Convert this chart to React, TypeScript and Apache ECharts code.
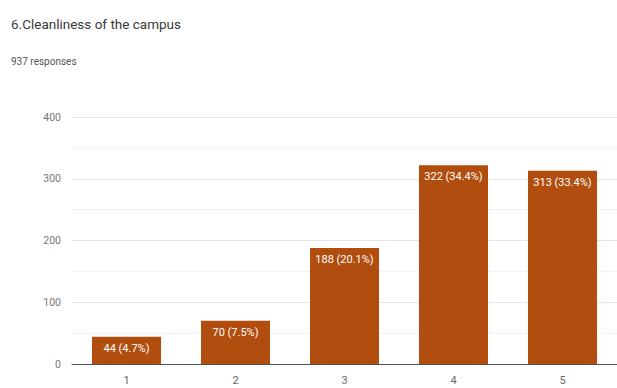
import React, { useEffect, useRef } from "react";
import * as echarts from "echarts";

const title = "6.Cleanliness of the campus";
const subtitle = "937 responses";
const categories = ["1", "2", "3", "4", "5"];
const counts = [44, 70, 188, 322, 313];
const percents = ["4.7", "7.5", "20.1", "34.4", "33.4"];
const yTicks = [0, 100, 200, 300, 400];

export default function App() {
  const ref = useRef<HTMLDivElement>(null);
  useEffect(() => {
    if (!ref.current) return;
    const chart = echarts.init(ref.current, null, { renderer: "svg" });
    chart.setOption({
      animation: false,
      backgroundColor: "#ffffff",
      title: [
        {
          text: title,
          left: 6,
          top: 12,
          textStyle: { fontFamily: "Roboto", fontSize: 13.5, fontWeight: "normal", color: "#3a3a3a" },
        },
        {
          text: subtitle,
          left: 6,
          top: 51,
          textStyle: { fontFamily: "Roboto", fontSize: 10, fontWeight: "normal", color: "#555" },
        },
      ],
      grid: { left: 72, top: 117, width: 550, height: 247, containLabel: false },
      xAxis: {
        type: "category",
        data: categories,
        axisTick: { show: false },
        axisLine: { lineStyle: { color: "#555", width: 1 } },
        axisLabel: { color: "#666", fontFamily: "Roboto", fontSize: 11, margin: 11 },
      },
      yAxis: {
        type: "value",
        min: yTicks[0],
        max: yTicks[yTicks.length - 1],
        interval: 100,
        axisLine: { show: false },
        axisTick: { show: false },
        axisLabel: { color: "#777", fontFamily: "Roboto", fontSize: 10.5, margin: 11 },
        splitLine: { lineStyle: { color: "#e4e4e4", width: 1 } },
        minorTick: { show: false, splitNumber: 2 },
        minorSplitLine: { show: true, lineStyle: { color: "#f2f2f2", width: 1 } },
      },
      series: [
        {
          type: "bar",
          data: counts,
          barWidth: 69,
          itemStyle: { color: "#b14d0e" },
          label: {
            show: true,
            position: "insideTop",
            distance: 6,
            color: "#ffffff",
            fontFamily: "Roboto",
            fontSize: 11,
            formatter: (p: any) => `${counts[p.dataIndex]} (${percents[p.dataIndex]}%)`,
          },
        },
      ],
    });
    return () => chart.dispose();
  }, []);
  return (
    <div
      ref={ref}
      style={{ position: "fixed", left: 0, top: 0, width: 617, height: 388 }}
    />
  );
}
